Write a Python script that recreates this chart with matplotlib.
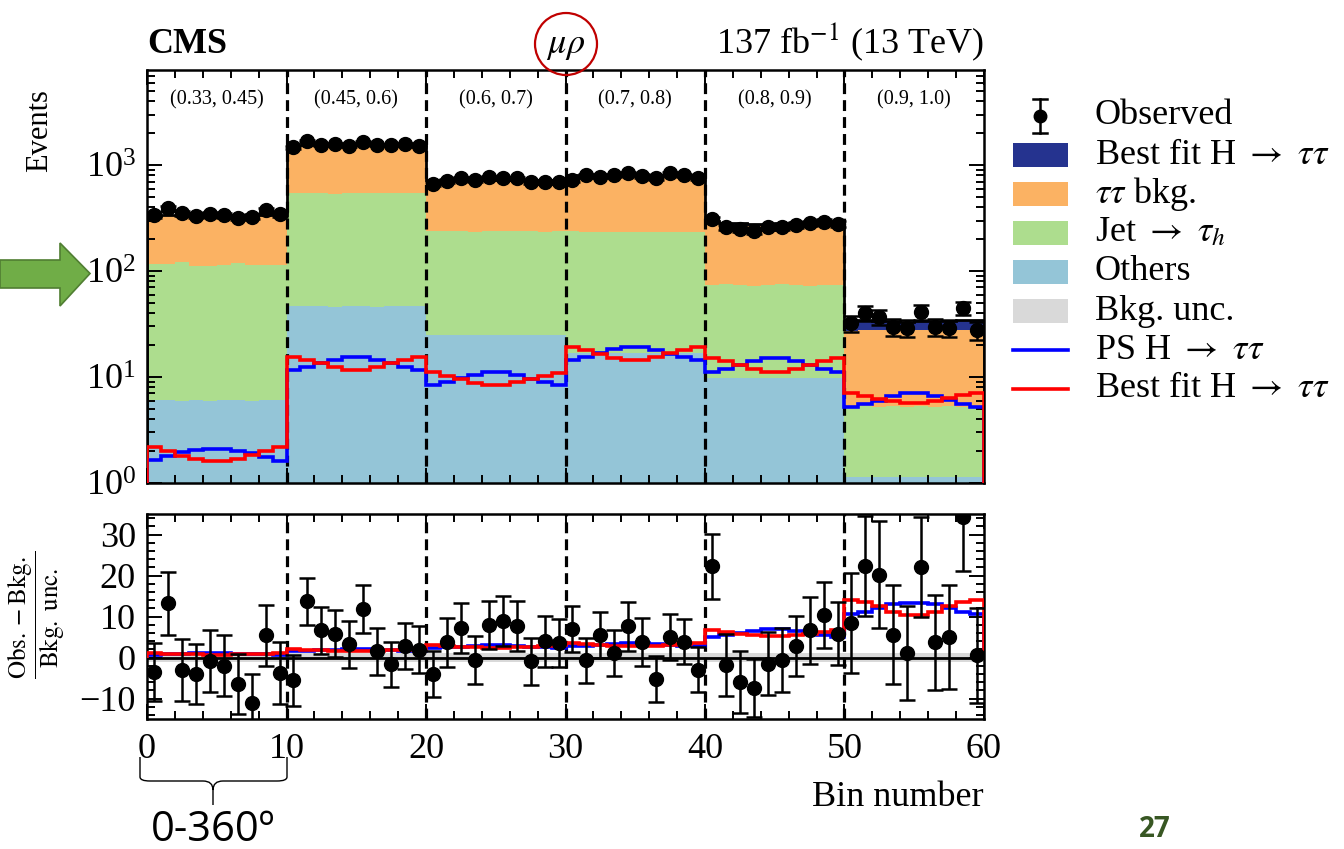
import numpy as np
import matplotlib
matplotlib.use("Agg")
import matplotlib.pyplot as plt
from matplotlib.patches import Rectangle, Ellipse, Polygon, PathPatch
from matplotlib.path import Path
from matplotlib.lines import Line2D
from matplotlib.ticker import MultipleLocator, LogLocator, NullFormatter

plt.rcParams['font.family'] = ['Liberation Serif', 'DejaVu Serif']
plt.rcParams['mathtext.fontset'] = 'stix'

# ---------------- data ----------------
block_labels = ["(0.33, 0.45)", "(0.45, 0.6)", "(0.6, 0.7)", "(0.7, 0.8)", "(0.8, 0.9)", "(0.9, 1.0)"]

observed = [337, 391, 350, 332, 345, 337, 318, 325, 376, 345,
            1469, 1695, 1544, 1578, 1511, 1659, 1544, 1544, 1578, 1511,
            662, 711, 750, 722, 765, 750, 750, 696, 696, 696,
            722, 805, 776, 805, 835, 788, 750, 835, 805, 750,
            307, 258, 247, 240, 258, 262, 272, 282, 292, 278,
            32.3, 40.1, 36.8, 29.6, 29.0, 41.0, 29.6, 29.0, 44.8, 27.7]

others = [6.1, 6.1, 6.0, 6.1, 6.0, 6.1, 6.1, 6.0, 6.1, 6.1,
          47, 47, 47, 46, 47, 47, 46, 47, 47, 47,
          25, 25, 25, 25, 25, 25, 25, 25, 25, 25,
          17, 17, 17, 17, 17, 17, 17, 17, 17, 17,
          9.8, 9.8, 9.8, 9.8, 9.8, 9.8, 9.8, 9.8, 9.8, 9.8,
          1.15, 1.15, 1.15, 1.15, 1.15, 1.15, 1.15, 1.15, 1.15, 1.15]

jet_fakes = [110, 111, 116, 106, 106, 107, 112, 107, 107, 108,
             495, 500, 498, 490, 496, 502, 499, 494, 497, 495,
             214, 212, 213, 211, 214, 213, 212, 213, 211, 212,
             220, 218, 217, 219, 218, 217, 218, 219, 217, 218,
             64, 65, 64, 63, 64, 65, 64, 63, 64, 64,
             4.1, 4.2, 4.1, 4.2, 4.1, 4.2, 4.1, 4.2, 4.1, 4.1]

tautau_bkg = [215, 222, 218, 222, 224, 222, 215, 222, 224, 222,
              985, 990, 980, 985, 990, 985, 980, 990, 985, 980,
              470, 475, 478, 476, 478, 477, 475, 476, 478, 477,
              550, 555, 556, 555, 557, 556, 554, 555, 556, 552,
              205, 198, 195, 194, 195, 196, 197, 198, 199, 199,
              22.2, 22.6, 22.4, 22.5, 22.3, 22.4, 22.4, 22.2, 22.5, 22.3]

# best fit H->tautau (red) and PS H->tautau (blue)
bestfit_h = [2.2, 2.0, 1.8, 1.7, 1.62, 1.62, 1.7, 1.85, 2.0, 2.2,
             15.4, 14.5, 13.5, 12.5, 11.7, 11.7, 12.5, 13.5, 14.5, 15.4,
             11.1, 10.3, 9.5, 8.8, 8.4, 8.4, 8.9, 9.6, 10.3, 11.0,
             19.2, 18.0, 16.5, 15.2, 14.5, 14.5, 15.3, 16.7, 18.0, 19.2,
             15.1, 14.2, 13.0, 11.9, 11.1, 11.1, 11.9, 13.0, 14.2, 15.1,
             7.1, 6.6, 6.2, 5.9, 5.7, 5.7, 5.9, 6.3, 6.7, 7.1]
ps_h = [1.65, 1.8, 1.95, 2.05, 2.1, 2.1, 2.0, 1.9, 1.75, 1.62,
        11.6, 12.5, 13.5, 14.6, 15.6, 15.6, 14.6, 13.5, 12.5, 11.6,
        8.4, 9.0, 9.7, 10.5, 11.1, 11.1, 10.4, 9.6, 9.0, 8.4,
        14.5, 15.4, 16.8, 18.2, 19.2, 19.2, 18.0, 16.6, 15.5, 14.5,
        11.1, 11.9, 13.0, 14.3, 15.2, 15.2, 14.2, 13.0, 11.9, 11.1,
        5.2, 5.6, 6.0, 6.6, 7.0, 7.0, 6.6, 6.1, 5.6, 5.2]

# lower panel: (Obs. - Bkg.) / Bkg. unc.
pull = [-3.6, 13.2, -3.0, -4.1, -0.9, -2.0, -6.4, -11.0, 5.4, -3.7,
        -5.6, 13.7, 6.6, 5.8, 3.2, 11.8, 1.5, -1.7, 2.9, 1.9,
        -4.1, 3.7, 7.2, -0.6, 8.0, 9.0, 7.7, -0.9, 4.0, 3.5,
        7.0, -0.7, 5.5, 1.1, 7.6, 3.8, -5.2, 5.1, 3.9, -3.0,
        22.2, -1.8, -6.0, -7.4, -1.5, -0.6, 2.9, 6.6, 10.4, 5.8,
        8.4, 22.4, 20.2, 5.6, 1.1, 22.0, 3.7, 5.1, 34.2, 0.5]
pull_err = [7.1, 7.7, 7.6, 7.3, 7.6, 7.4, 7.3, 7.0, 7.5, 7.6,
            6.3, 5.7, 5.7, 5.7, 5.7, 5.8, 5.7, 5.6, 5.6, 5.7,
            5.6, 6.0, 6.0, 5.9, 5.9, 6.1, 6.1, 5.7, 6.2, 5.9,
            5.6, 5.4, 5.5, 5.7, 6.0, 5.9, 5.6, 5.6, 5.4, 5.5,
            8.0, 7.5, 7.6, 7.1, 7.6, 7.7, 7.3, 8.1, 8.0, 7.7,
            12.3, 12.2, 13.0, 12.0, 11.4, 12.2, 11.6, 12.7, 13.0, 11.6]
bestfit_pull = [1.0, 0.9, 0.8, 0.75, 0.7, 0.7, 0.75, 0.85, 0.9, 1.0,
                2.0, 1.9, 1.8, 1.7, 1.6, 1.6, 1.7, 1.8, 1.9, 2.0,
                3.0, 2.8, 2.6, 2.5, 2.4, 2.4, 2.5, 2.6, 2.8, 3.0,
                3.6, 3.4, 3.1, 2.9, 2.8, 2.8, 2.9, 3.1, 3.4, 3.6,
                6.7, 6.3, 5.8, 5.4, 5.2, 5.2, 5.4, 5.8, 6.3, 6.7,
                14.0, 13.5, 12.5, 11.0, 10.3, 10.3, 11.0, 12.5, 13.5, 14.0]
ps_pull = [0.7, 0.8, 0.9, 1.0, 1.0, 1.0, 0.9, 0.8, 0.8, 0.7,
           1.6, 1.7, 1.8, 1.9, 2.0, 2.0, 1.9, 1.8, 1.7, 1.6,
           2.4, 2.5, 2.6, 2.8, 3.0, 3.0, 2.8, 2.6, 2.5, 2.4,
           2.8, 2.9, 3.1, 3.4, 3.6, 3.6, 3.4, 3.1, 2.9, 2.8,
           5.0, 5.4, 5.9, 6.5, 7.0, 7.0, 6.5, 5.9, 5.4, 5.0,
           10.6, 11.0, 12.0, 13.0, 13.2, 13.2, 13.0, 12.0, 11.0, 10.6]

legend_labels = ["Observed", r"Best fit H $\rightarrow$ $\tau\tau$", r"$\tau\tau$ bkg.",
                 r"Jet $\rightarrow$ $\tau_h$", "Others", "Bkg. unc.",
                 r"PS H $\rightarrow$ $\tau\tau$", r"Best fit H $\rightarrow$ $\tau\tau$"]

# ---------------- styling ----------------
C_SIG = '#25338f'
C_TT = '#fbb263'
C_JET = '#addd8e'
C_OTH = '#94c5d7'
C_UNC = '#d9d9d9'
FS = 26

W, H = 1344, 849
def fx(x):
    return x / W
def fy(y):
    return 1 - y / H

fig = plt.figure(figsize=(W / 100, H / 100), dpi=100)
ax1 = fig.add_axes([fx(147), fy(483), (984 - 147) / W, (483 - 70) / H])
ax2 = fig.add_axes([fx(147), fy(719), (984 - 147) / W, (719 - 514) / H])

edges = np.arange(len(observed) + 1)
centers = edges[:-1] + 0.5

c1 = np.array(others)
c2 = c1 + np.array(jet_fakes)
c3 = c2 + np.array(tautau_bkg)
c4 = c3 + np.array(bestfit_h)

ax1.stairs(c1, edges, baseline=1e-3, fill=True, color=C_OTH, lw=0, zorder=1)
ax1.stairs(c2, edges, baseline=c1, fill=True, color=C_JET, lw=0, zorder=1)
ax1.stairs(c3, edges, baseline=c2, fill=True, color=C_TT, lw=0, zorder=1)
ax1.stairs(c4, edges, baseline=c3, fill=True, color=C_SIG, lw=0, zorder=1)
ax1.stairs(c4, edges, color='k', lw=2.0, zorder=3)

ax1.stairs(ps_h, edges, color='#0000ff', lw=2.6, zorder=4)
ax1.stairs(bestfit_h, edges, color='#ff0000', lw=2.6, zorder=4)

obs_a = np.array(observed)
ax1.errorbar(centers, obs_a, yerr=np.sqrt(obs_a), fmt='o', color='k', ms=10,
             elinewidth=1.8, capsize=5.5, capthick=1.8, zorder=6)

ax1.set_yscale('log')
ax1.set_ylim(1, 7900)
ax1.set_xlim(0, 60)

for b, lab in enumerate(block_labels):
    ax1.text(10 * b + 5, (483 - 100) / 413, lab, transform=ax1.get_xaxis_transform(),
             ha='center', va='center', fontsize=14.5)

# lower panel
ax2.axhspan(-1, 1, color=C_UNC, lw=0, zorder=1)
ax2.axhline(0, color='k', lw=2.0, zorder=2)
ax2.stairs(ps_pull, edges, color='#0000ff', lw=2.6, zorder=4)
ax2.stairs(bestfit_pull, edges, color='#ff0000', lw=2.6, zorder=4)
ax2.errorbar(centers, pull, yerr=pull_err, fmt='o', color='k', ms=10,
             elinewidth=1.8, capsize=5.5, capthick=1.8, zorder=6)
ax2.set_xlim(0, 60)
ax2.set_ylim(-15, 35)

for ax in (ax1, ax2):
    for xb in range(10, 60, 10):
        ax.axvline(xb, color='k', lw=2.3, ls=(0, (3.4, 1.9)), zorder=3)
    ax.xaxis.set_major_locator(MultipleLocator(10))
    ax.xaxis.set_minor_locator(MultipleLocator(2))
    ax.tick_params(which='both', direction='in', top=True, right=True, width=1.4,
                   labelsize=FS)
    ax.tick_params(which='major', length=11)
    ax.tick_params(which='minor', length=6)
    for s in ax.spines.values():
        s.set_linewidth(1.8)

ax1.tick_params(axis='x', which='both', labelbottom=False)
ax1.tick_params(axis='y', which='both', pad=8)
ax1.yaxis.set_major_locator(LogLocator(base=10, numticks=10))
ax1.yaxis.set_minor_locator(LogLocator(base=10, subs=np.arange(2, 10), numticks=20))
ax1.yaxis.set_minor_formatter(NullFormatter())

ax2.yaxis.set_major_locator(MultipleLocator(10))
ax2.yaxis.set_minor_locator(MultipleLocator(2))
ax2.tick_params(axis='x', which='both', pad=10)
ax2.tick_params(axis='y', which='both', pad=8)

# axis labels
fig.text(fx(984), fy(806), 'Bin number', ha='right', va='baseline', fontsize=FS)
fig.text(fx(40), fy(131), 'Events', rotation=90, ha='center', va='center', fontsize=22)
fig.text(fx(36), fy(615), r'$\dfrac{\mathrm{Obs.} - \mathrm{Bkg.}}{\mathrm{Bkg.\ unc.}}$',
         rotation=90, ha='center', va='center', fontsize=18)

# header
fig.text(fx(147), fy(53), 'CMS', weight='bold', ha='left', va='baseline', fontsize=FS)
fig.text(fx(984), fy(53), r'137 fb$^{-1}$ (13 TeV)', ha='right', va='baseline', fontsize=FS)
fig.text(fx(566), fy(53), r'$\mu\rho$', ha='center', va='baseline', fontsize=FS)

# legend (drawn manually in figure pixel coordinates)
row_y = [116 + 39 * i for i in range(len(legend_labels))]
for yy, lab in zip(row_y, legend_labels):
    fig.text(fx(1095), fy(yy), lab, ha='left', va='center', fontsize=FS)
fig.add_artist(Line2D([fx(1040), fx(1040)], [fy(row_y[0] - 17), fy(row_y[0] + 17)], color='k', lw=1.8))
for dy in (-17, 17):
    fig.add_artist(Line2D([fx(1033), fx(1047)], [fy(row_y[0] + dy)] * 2, color='k', lw=1.8))
fig.add_artist(Line2D([fx(1040)], [fy(row_y[0])], marker='o', ms=9, color='k'))
for yy, col in zip(row_y[1:6], [C_SIG, C_TT, C_JET, C_OTH, C_UNC]):
    fig.add_artist(Rectangle((fx(1013), fy(yy + 12)), 55 / W, 24 / H, color=col, lw=0,
                             transform=fig.transFigure))
fig.add_artist(Line2D([fx(1013), fx(1068)], [fy(row_y[6])] * 2, color='#0000ff', lw=2.6))
fig.add_artist(Line2D([fx(1013), fx(1068)], [fy(row_y[7])] * 2, color='#ff0000', lw=2.6))

# annotations
fig.add_artist(Ellipse((fx(566), fy(44)), 62 / W, 62 / H, fill=False, ec='#c00000', lw=1.6,
                       transform=fig.transFigure))
arrow_px = [(0, 260), (60, 260), (60, 243), (90, 273.5), (60, 306), (60, 288), (0, 288)]
fig.add_artist(Polygon([(fx(x), fy(y)) for x, y in arrow_px], closed=True, fc='#70ad47',
                       ec='#507e32', lw=1.2, transform=fig.transFigure))
brace_px = [(140, 757), (140, 777), (140, 781), (150, 781),
            (203, 781), (213, 781), (213, 790), (213, 805),
            (213, 790), (213, 781), (223, 781),
            (277, 781), (287, 781), (287, 777), (287, 757)]
brace_codes = [Path.MOVETO, Path.LINETO, Path.CURVE3, Path.CURVE3,
               Path.LINETO, Path.CURVE3, Path.CURVE3, Path.LINETO,
               Path.MOVETO, Path.CURVE3, Path.CURVE3,
               Path.LINETO, Path.CURVE3, Path.CURVE3, Path.LINETO]
fig.add_artist(PathPatch(Path([(fx(x), fy(y)) for x, y in brace_px], brace_codes), fill=False,
                         ec='k', lw=1.0, transform=fig.transFigure))
fig.text(fx(213), fy(841), '0-360º', ha='center', va='baseline', fontsize=30,
         family=['Open Sans', 'DejaVu Sans'])
fig.text(fx(1155), fy(844), '27', ha='center', va='bottom', fontsize=20, weight='bold',
         color='#385723', family=['Open Sans', 'DejaVu Sans'])

fig.savefig('out.png', dpi=100)
